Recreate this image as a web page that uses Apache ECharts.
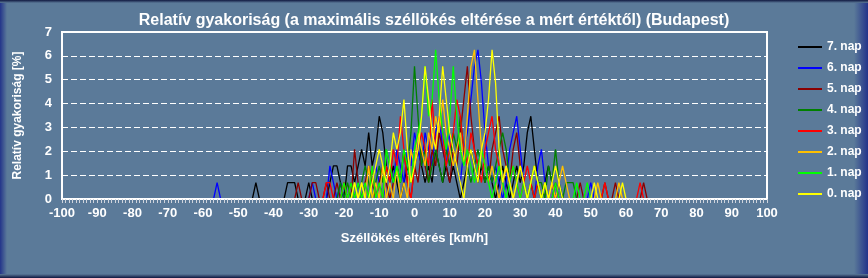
<!DOCTYPE html>
<html>
<head>
<meta charset="utf-8">
<script src="https://cdn.jsdelivr.net/npm/echarts@6/dist/echarts.min.js"></script>
<style>
html,body{margin:0;padding:0;background:#5B7A99;}
#chart{width:868px;height:278px;}
</style>
</head>
<body>
<div id="chart"></div>
<script>
// ---- data ----
const titleText = 'Relatív gyakoriság (a maximális széllökés eltérése a mért értéktől) (Budapest)';
const xAxisName = 'Széllökés eltérés [km/h]';
const yAxisName = 'Relatív gyakoriság [%]';
const seriesNames = ['7. nap','6. nap','5. nap','4. nap','3. nap','2. nap','1. nap','0. nap'];
const seriesColors = ['#000000','#0000FF','#8B0000','#008000','#FF0000','#FFC000','#00FF00','#FFFF00'];

const start7 = -46;
const nap7 = [0,0.69,0,0,0,0,0,0,0,0, 0.69,0.69,0.69,0,0,0,0.69,0,0,0, 0,0,0.69,1.39,1.39,0.69,0,1.39,1.39,0.69, 1.39,2.08,1.39,2.78,1.39,2.08,3.47,2.78,1.39,0.69, 1.39,0.69,0,0.69,1.39,0.69,1.39,2.08,1.39,0.69, 1.39,0.69,2.08,1.39,0.69,1.39,0.69,1.39,0.69,0, 0.69,1.39,2.08,1.39,0.69,1.39,0.69,1.39,0.69,0, 0.69,1.39,0.69,0,0.69,1.39,0.69,1.39,2.78,3.47, 2.08,0.69,0,0.69,1.39,0.69,0,0.69,0];

const start6 = -57;
const nap6 = [0,0.69,0,0,0,0,0,0,0,0, 0,0,0,0,0,0,0,0,0,0, 0,0,0,0,0,0,0,0,0.69,0, 0,0,0,1.39,0.69,0,0.69,0,0,0.69, 0,0.69,0,0.69,0,0.69,1.39,0.69,0,0.69, 1.39,0.69,2.08,1.39,0.69,2.08,1.39,2.78,2.08,1.39, 2.78,2.08,1.39,2.78,3.47,2.08,1.39,2.78,2.08,1.39, 0.69,2.08,2.78,4.17,5.56,6.25,4.86,2.78,1.39,0.69, 1.39,0.69,0,0.69,2.08,2.78,3.47,2.08,0.69,0, 0.69,0,1.39,2.08,0.69,0,0.69,0,0.69,0, 0,0,0,0,0,0,0,0.69,0];

const start5 = -34;
const nap5 = [0,0.69,0,0,0,0.69,0.69,0,0,0.69, 0,0,0.69,0,0.69,0,0,2.08,0.69,0, 0.69,1.39,0.69,0,0.69,1.39,0.69,0,0.69,1.39, 0.69,2.08,0.69,0,1.39,0.69,2.08,1.39,0.69,2.08, 1.39,2.78,2.08,1.39,0.69,2.08,1.39,2.78,4.17,5.56, 3.47,2.08,1.39,2.08,1.39,0.69,2.08,2.78,3.47,2.08, 1.39,0.69,2.08,2.78,1.39,0.69,0,0.69,1.39,0.69, 0,0.69,0,0,0.69,0,0,0,0,0, 0,0.69,0,0,0,0,0,0,0.69,0, 0,0.69,0,0,0,0,0,0,0,0.69,0];

const start4 = -22;
const nap4 = [0,0.69,0,0.69,0,0.69,0,0.69,1.39,0.69, 0,0.69,1.39,0.69,2.08,1.39,0.69,1.39,0.69,2.08, 1.39,2.78,5.56,3.47,1.39,2.08,0.69,1.39,2.08,1.39, 0.69,2.08,1.39,2.78,2.08,3.47,2.08,1.39,0.69,1.39, 2.08,1.39,0.69,1.39,0.69,1.39,2.08,2.78,2.08,0.69, 0,0.69,1.39,0.69,0,0.69,0,0.69,0.69,0, 1.39,0.69,2.08,0.69,0,0.69,0.69,0.69,0,0];

const start3 = -26;
const nap3 = [0,0.69,0.69,0,0,0,0.69,0,0.69,0, 0,0,0.69,0,1.39,0,0.69,0,1.39,0.69, 2.08,1.39,3.47,2.08,0.69,0,1.39,2.08,2.78,2.08, 1.39,4.17,2.08,3.47,2.78,1.39,2.08,2.78,4.17,3.47, 2.08,1.39,2.78,2.08,1.39,0.69,2.08,2.78,3.47,2.08, 1.39,0.69,1.39,0.69,1.39,0.69,0,0.69,1.39,0.69, 0,0.69,0,0.69,0,0.69,0,0,0,0, 0,0,0,0,0,0,0,0,0,0, 0.69,0,0,0,0,0,0,0,0,0, 0.69,0];

const start2 = -18;
const nap2 = [0,0.69,0,0.69,0,1.39,0,0.69,0,1.39, 0,0.69,0,1.39,0,0.69,0,2.08,1.39,2.78, 2.08,1.39,2.78,2.08,3.47,2.78,4.17,2.78,2.08,1.39, 2.08,2.78,1.39,3.47,5.56,6.25,4.17,2.08,1.39,0.69, 1.39,0.69,0,0.69,1.39,0.69,0,0.69,1.39,0.69, 0,0.69,1.39,0.69,0,0.69,0,0.69,0,0.69, 1.39,0.69,0,0,0,0,0,0,0,0, 0.69,0,0,0,0,0,0.69,0];

const start1 = -21;
const nap1 = [0,0.69,0,0.69,0,0.69,0,0.69,0,1.39, 0,0.69,0,2.08,1.39,0.69,1.39,0.69,2.08,1.39, 0.69,2.08,2.78,3.47,5.56,3.47,4.17,6.25,4.17,2.78, 2.08,3.47,5.56,3.47,2.08,1.39,2.08,1.39,0.69,1.39, 2.08,1.39,0.69,0,0.69,1.39,0.69,0,0.69,1.39, 0.69,0,0.69,0,0.69,1.39,0.69,0,0.69,0, 0,0.69,0,0,0,0,0,0.69,0,0, 0.69,0];

const start0 = -18;
const nap0 = [0,0.69,0,0.69,0,0,0.69,1.39,2.08,1.39, 0.69,1.39,2.78,2.08,2.78,4.17,2.08,0.69,1.39,2.08, 3.47,5.56,4.17,2.78,2.08,3.47,5.56,4.17,2.78,2.08, 1.39,0.69,0,1.39,2.08,1.39,0.69,2.08,2.78,4.17, 6.25,4.86,2.08,0.69,1.39,0.69,0,0.69,1.39,0.69, 0,0.69,1.39,0.69,0,0.69,0,0.69,1.39,0.69, 0,0,0,0,0,0,0,0,0,0.69, 0,0,0,0,0,0,0,0.69,0];

const seriesStarts = [start7,start6,start5,start4,start3,start2,start1,start0];
const seriesValues = [nap7,nap6,nap5,nap4,nap3,nap2,nap1,nap0];

const xMin = -100, xMax = 100, xStep = 10;
const yMin = 0, yMax = 7, yStep = 1;

// ---- chart ----
const chart = echarts.init(document.getElementById('chart'), null, {renderer:'canvas'});
const FONT = '"Liberation Sans", Arial, sans-serif';
const BG = '#5B7A99';
const EDGE = '#23348A';

const series = seriesNames.map((name, i) => ({
  name: name,
  type: 'line',
  data: seriesValues[i].map((v, k) => [seriesStarts[i] + k, v]),
  symbol: 'none',
  lineStyle: {color: seriesColors[i], width: 1.3},
  itemStyle: {color: seriesColors[i]},
  z: 2
}));

chart.setOption({
  animation: false,
  backgroundColor: BG,
  title: {
    text: titleText,
    left: 'center',
    top: 8,
    textStyle: {color: '#FFFFFF', fontSize: 16, fontWeight: 'bold', fontFamily: FONT}
  },
  legend: {
    orient: 'vertical',
    left: 793,
    top: 35,
    itemWidth: 24,
    itemHeight: 2,
    itemGap: 7,
    icon: 'rect',
    textStyle: {color: '#FFFFFF', fontSize: 12, fontWeight: 'bold', fontFamily: FONT, lineHeight: 14},
    data: seriesNames
  },
  grid: {
    left: 62, right: 101, top: 32, bottom: 79,
    show: true, borderColor: '#FFFFFF', borderWidth: 2, backgroundColor: 'transparent'
  },
  xAxis: {
    type: 'value',
    min: xMin, max: xMax, interval: xStep,
    name: xAxisName,
    nameLocation: 'middle',
    nameGap: 33,
    nameTextStyle: {color: '#FFFFFF', fontSize: 13, fontWeight: 'bold', fontFamily: FONT},
    axisLine: {show: true, onZero: false, lineStyle: {color: '#FFFFFF', width: 2}},
    axisTick: {show: true, length: 4, lineStyle: {color: '#D0D4DC', width: 1}},
    minorTick: {show: true, splitNumber: 10, length: 4, lineStyle: {color: '#D0D4DC', width: 1}},
    axisLabel: {color: '#FFFFFF', fontSize: 13, fontWeight: 'bold', fontFamily: FONT, margin: 8},
    splitLine: {show: false},
    z: 5
  },
  yAxis: {
    type: 'value',
    min: yMin, max: yMax, interval: yStep,
    name: yAxisName,
    nameLocation: 'middle',
    nameGap: 38,
    nameTextStyle: {color: '#FFFFFF', fontSize: 12, fontWeight: 'bold', fontFamily: FONT},
    axisLine: {show: true, onZero: false, lineStyle: {color: '#FFFFFF', width: 2}},
    axisTick: {show: false},
    axisLabel: {color: '#FFFFFF', fontSize: 13, fontWeight: 'bold', fontFamily: FONT, margin: 10},
    splitLine: {show: true, lineStyle: {color: '#FFFFFF', width: 1, type: [6, 3]}}
  },
  graphic: [
    {type: 'rect', left: 0, top: 0, shape: {width: 7, height: 278}, silent: true, z: -1,
     style: {fill: new echarts.graphic.LinearGradient(0, 0, 1, 0, [{offset: 0, color: EDGE}, {offset: 1, color: BG}])}},
    {type: 'rect', right: 0, top: 0, shape: {width: 14, height: 278}, silent: true, z: -1,
     style: {fill: new echarts.graphic.LinearGradient(0, 0, 1, 0, [{offset: 0, color: BG}, {offset: 1, color: EDGE}])}},
    {type: 'rect', left: 0, top: 0, shape: {width: 868, height: 3}, silent: true, z: -1,
     style: {fill: new echarts.graphic.LinearGradient(0, 0, 0, 1, [{offset: 0, color: '#101840'}, {offset: 1, color: BG}])}},
    {type: 'rect', left: 0, bottom: 0, shape: {width: 868, height: 4}, silent: true, z: -1,
     style: {fill: new echarts.graphic.LinearGradient(0, 0, 0, 1, [{offset: 0, color: BG}, {offset: 1, color: '#101840'}])}}
  ],
  series: series
});
</script>
</body>
</html>
